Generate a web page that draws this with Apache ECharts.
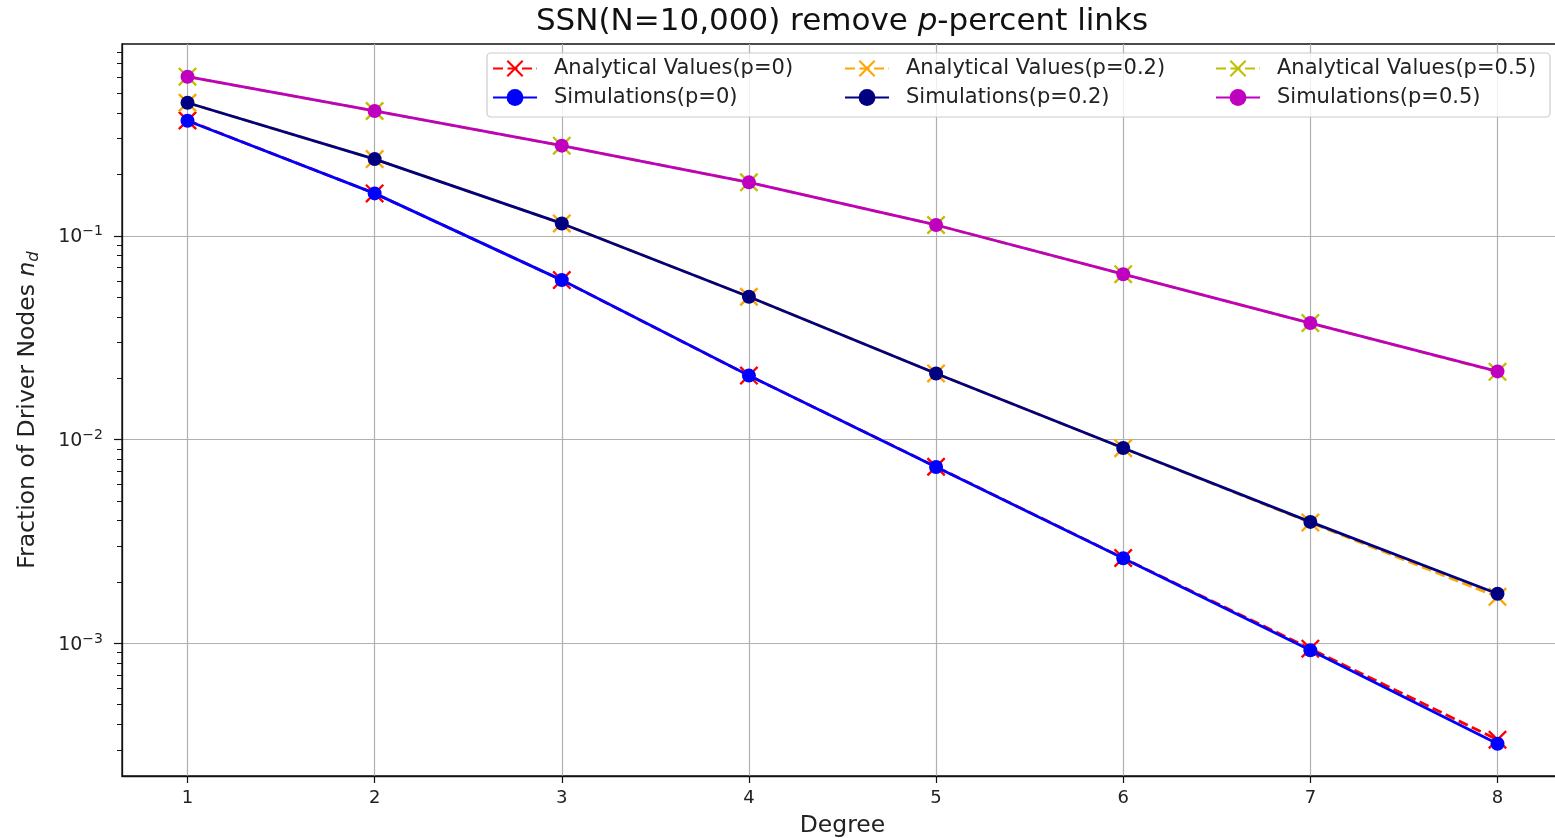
<!DOCTYPE html>
<html>
<head>
<meta charset="utf-8">
<script src="https://cdn.jsdelivr.net/npm/echarts@6/dist/echarts.min.js"></script>
<style>
  html, body { margin: 0; padding: 0; background: #ffffff; }
  #chart { width: 1555px; height: 838px; }
</style>
</head>
<body>
<div id="chart"></div>
<script>
// ---- data ----
var degrees = [1, 2, 3, 4, 5, 6, 7, 8];
var analytical0  = [0.368, 0.1615, 0.0606, 0.0206, 0.00735, 0.00262, 0.00094, 0.000336];
var simulation0  = [0.367, 0.1615, 0.0606, 0.0206, 0.00733, 0.00261, 0.000923, 0.000321];
var analytical02 = [0.450, 0.238, 0.115, 0.0502, 0.0211, 0.00907, 0.00391, 0.00169];
var simulation02 = [0.450, 0.238, 0.115, 0.0502, 0.0211, 0.00909, 0.00394, 0.00175];
var analytical05 = [0.604, 0.410, 0.277, 0.183, 0.113, 0.0648, 0.0373, 0.0215];
var simulation05 = [0.604, 0.410, 0.277, 0.183, 0.113, 0.0648, 0.0373, 0.0216];
var seriesNames = [
  'Analytical Values(p=0)', 'Simulations(p=0)',
  'Analytical Values(p=0.2)', 'Simulations(p=0.2)',
  'Analytical Values(p=0.5)', 'Simulations(p=0.5)'
];
var xTicks = [1, 2, 3, 4, 5, 6, 7, 8];
var yMajorTicks = [0.001, 0.01, 0.1];
var yMajorExps = ['−3', '−2', '−1'];
var yMinorTicks = [0.0003, 0.0004, 0.0005, 0.0006, 0.0007, 0.0008, 0.0009,
                   0.002, 0.003, 0.004, 0.005, 0.006, 0.007, 0.008, 0.009,
                   0.02, 0.03, 0.04, 0.05, 0.06, 0.07, 0.08, 0.09,
                   0.2, 0.3, 0.4, 0.5, 0.6, 0.7, 0.8];

// ---- styling ----
var FONT = 'DejaVu Sans';
var X_PATH = 'path://M0,1.4L1.4,0L8,6.6L14.6,0L16,1.4L9.4,8L16,14.6L14.6,16L8,9.4L1.4,16L0,14.6L6.6,8Z';
var colors = ['#ff0000', '#0000ff', '#ffa500', '#000080', '#bfbf00', '#bf00bf'];
var values = [analytical0, simulation0, analytical02, simulation02, analytical05, simulation05];

function pairs(arr) { return degrees.map(function (d, i) { return [d, arr[i]]; }); }

var series = values.map(function (arr, k) {
  var isAna = (k % 2 === 0);
  return {
    name: seriesNames[k],
    type: 'line',
    data: pairs(arr),
    symbol: isAna ? X_PATH : 'circle',
    symbolSize: isAna ? 19 : 14,
    showSymbol: true,
    z: 2 + k,
    lineStyle: { color: colors[k], width: 2.8, type: isAna ? [10, 4.5] : 'solid' },
    itemStyle: { color: colors[k], borderWidth: 0 },
    emphasis: { disabled: true }
  };
});

var legendText = { fontFamily: FONT, fontSize: 21, color: '#222', padding: [0, 0, 0, 12] };
function makeLegend(left, names) {
  return {
    orient: 'vertical', left: left, top: 58,
    itemWidth: 44, itemHeight: 21, itemGap: 8,
    textStyle: legendText,
    data: names, selectedMode: false, padding: 0
  };
}

var chart = echarts.init(document.getElementById('chart'), null, { renderer: 'canvas' });
chart.setOption({
  animation: false,
  backgroundColor: '#ffffff',
  title: {
    text: 'SSN(N=10,000) remove {i|p}-percent links',
    left: 842, top: 6, textAlign: 'center', padding: 0,
    textStyle: {
      fontFamily: FONT, fontSize: 31, fontWeight: 'normal', color: '#111',
      rich: { i: { fontFamily: FONT, fontSize: 31, fontStyle: 'italic', color: '#111' } }
    }
  },
  grid: {
    left: 122, top: 44, width: 1441, height: 732,
    show: true, borderColor: '#111', borderWidth: 1.3, backgroundColor: 'transparent',
    outerBoundsMode: 'none', containLabel: false
  },
  legend: [
    makeLegend(492, [seriesNames[0], seriesNames[1]]),
    makeLegend(844, [seriesNames[2], seriesNames[3]]),
    makeLegend(1215, [seriesNames[4], seriesNames[5]])
  ],
  graphic: [{
    type: 'rect', z: 1, silent: true,
    shape: { x: 487, y: 53, width: 1063, height: 64, r: 4 },
    style: { fill: 'rgba(255,255,255,0.8)', stroke: '#cccccc', lineWidth: 1.2 }
  }],
  xAxis: {
    type: 'value', min: 0.65, max: 8.35,
    name: 'Degree', nameLocation: 'middle', nameGap: 38,
    nameTextStyle: { fontFamily: FONT, fontSize: 23.5, color: '#222' },
    axisLine: { show: true, lineStyle: { color: '#111', width: 1.3 } },
    axisTick: { show: true, length: 7, customValues: xTicks, lineStyle: { color: '#111', width: 1.2 } },
    axisLabel: { customValues: xTicks, margin: 13, fontFamily: FONT, fontSize: 18, color: '#222' },
    splitLine: { show: true, lineStyle: { color: '#b0b0b0', width: 1.2 } }
  },
  yAxis: [{
    type: 'log', min: 0.000223, max: 0.874, logBase: 10,
    name: 'Fraction of Driver Nodes {i|n}{sub|d}', nameLocation: 'middle', nameGap: 80,
    nameTextStyle: {
      fontFamily: FONT, fontSize: 23.5, color: '#222',
      rich: {
        i: { fontFamily: FONT, fontSize: 23.5, fontStyle: 'italic', color: '#222' },
        sub: { fontFamily: FONT, fontSize: 16.5, fontStyle: 'italic', color: '#222', verticalAlign: 'top', padding: [12, 0, 0, 0] }
      }
    },
    axisLine: { show: true, lineStyle: { color: '#111', width: 1.3 } },
    axisTick: { show: true, length: 8, customValues: yMajorTicks, lineStyle: { color: '#111', width: 1.2 } },
    axisLabel: {
      customValues: yMajorTicks, margin: 19, fontFamily: FONT, color: '#222',
      formatter: function (v) {
        var idx = yMajorTicks.indexOf(v);
        if (idx < 0) { for (var j = 0; j < yMajorTicks.length; j++) { if (Math.abs(v / yMajorTicks[j] - 1) < 1e-6) idx = j; } }
        return '{b|10}{s|' + yMajorExps[idx] + '}';
      },
      rich: {
        b: { fontFamily: FONT, fontSize: 19, color: '#222', verticalAlign: 'bottom' },
        s: { fontFamily: FONT, fontSize: 14, color: '#222', verticalAlign: 'bottom', padding: [0, 0, 8, 0] }
      }
    },
    splitLine: { show: true, lineStyle: { color: '#b0b0b0', width: 1.2 } }
  }, {
    type: 'log', min: 0.000223, max: 0.874, logBase: 10, position: 'left',
    axisLine: { show: false },
    axisTick: { show: true, length: 5, customValues: yMinorTicks, lineStyle: { color: '#111', width: 1 } },
    axisLabel: { show: false },
    splitLine: { show: false }
  }],
  series: series
});
</script>
</body>
</html>
